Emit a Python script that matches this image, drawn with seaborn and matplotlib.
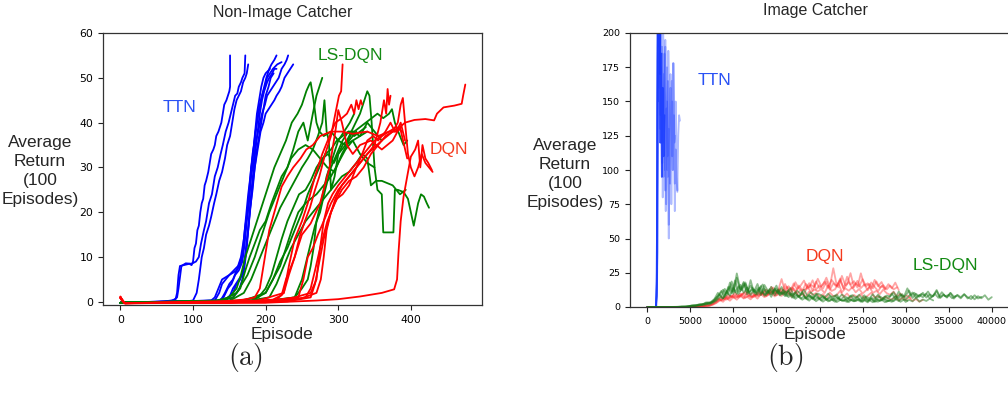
import numpy as np
import matplotlib
matplotlib.use("Agg")
import matplotlib.pyplot as plt
import seaborn as sns

# ---------------- Non-Image Catcher: one (episode, return) trace per run ----------------
ttn_a = ([0, 60, 70, 76, 78, 80, 82, 95, 98, 100, 102, 104, 106, 108, 110, 112, 114, 116, 118, 121,
          123, 125, 128, 130, 132, 135, 137, 139, 141, 143, 146, 148, 150, 151, 151],
         [-0.2, 0.1, 0.3, 0.6, 2, 6, 8, 8.5, 8.2, 9, 12, 13, 16, 17, 20, 22, 23, 26, 27, 29,
          31, 33, 34, 35, 37, 38, 39, 40, 42, 44, 45, 46, 47, 48, 55])
ttn_b = ([0, 65, 72, 78, 80, 84, 90, 98, 104, 108, 111, 115, 118, 122, 126, 130, 134, 138, 141, 145,
          149, 152, 155, 158, 161, 163, 166, 168, 171, 172],
         [-0.2, 0.1, 0.2, 1, 3, 8, 8.6, 8.5, 9, 10, 13, 16, 18, 22, 24, 28, 30, 33, 35, 38,
          40, 42, 44, 46, 46.5, 48, 49, 50, 51, 55])
ttn_c = ([0, 90, 100, 105, 108, 112, 115, 118, 122, 125, 129, 132, 136, 140, 144, 147, 151, 154, 157,
          160, 163, 166, 169, 172, 174, 176],
         [-0.2, 0.1, 0.3, 2, 5, 10, 12, 15, 17, 19, 22, 24, 27, 29, 32, 35, 37, 40, 43,
          45, 46, 47, 49, 50, 51, 53])
ttn_d = ([0, 125, 130, 135, 140, 145, 150, 155, 160, 164, 168, 170, 172, 175, 177, 180, 182, 184, 186,
          188, 190, 192, 195, 198, 201, 205, 208, 212, 215],
         [-0.2, 0.3, 1, 3, 5, 5.5, 6, 6.5, 7, 8, 10, 14, 17, 20, 24, 30, 32, 35, 38,
          40, 42, 44, 46, 48, 50, 52, 53, 54, 55])
ttn_e = ([0, 130, 136, 140, 145, 150, 156, 162, 166, 170, 173, 176, 179, 182, 185, 188, 191, 195, 199,
          202, 206, 210, 216, 222],
         [-0.2, 0.3, 2, 4, 5, 6, 7, 8, 10, 14, 19, 24, 28, 33, 36, 40, 43, 46, 48,
          50, 51, 52, 53, 53.5])
ttn_f = ([0, 135, 142, 148, 153, 158, 163, 168, 171, 174, 177, 180, 184, 187, 191, 195, 199, 202, 206,
          210, 214, 218, 222, 226, 229, 231],
         [-0.2, 0.2, 1, 3, 4, 6, 7, 9, 13, 18, 22, 28, 32, 36, 39, 42, 44, 46, 47,
          48, 49, 50, 52, 53, 54, 55])
ttn_g = ([0, 140, 148, 155, 160, 165, 169, 172, 175, 178, 182, 185, 189, 193, 197, 200, 204, 208, 212,
          215, 219, 222, 226, 230, 234, 238],
         [-0.2, 0.2, 1, 2, 4, 5, 7, 10, 15, 20, 25, 30, 34, 38, 40, 42, 43, 44, 45,
          46, 47, 48, 50, 51, 52, 53])
ttn_h = ([0, 138, 144, 150, 155, 160, 165, 170, 173, 176, 179, 182, 185, 188, 191, 194, 197, 200, 203,
          206],
         [-0.2, 0.3, 2, 4, 5, 7, 9, 12, 17, 22, 27, 32, 37, 42, 45, 48, 50, 51, 51.5, 52])
ttn_i = ([0, 145, 150, 155, 159, 163, 167, 170, 173, 176, 179, 182, 185, 188, 191, 194, 197, 200, 204,
          207, 211],
         [-0.2, 0.3, 1, 3, 4, 5, 6, 8, 12, 16, 21, 26, 30, 34, 37, 40, 43, 46, 48, 50, 51])
ttn_j = ([0, 150, 155, 160, 164, 168, 171, 174, 177, 180, 183, 186, 189, 192, 195, 198, 202, 205, 209,
          212, 215],
         [-0.2, 0.2, 1, 2, 3, 5, 8, 12, 18, 24, 29, 34, 38, 42, 45, 47, 49, 50, 51, 52, 52])

ls_a = ([0, 130, 150, 160, 166, 172, 180, 188, 196, 204, 212, 220, 228, 236, 244, 250, 256, 260, 262,
         266, 270, 274, 280, 290, 300, 310, 320, 330, 340, 350],
        [-0.2, 0.2, 1, 3, 6, 10, 14, 18, 22, 26, 30, 33, 36, 40, 42, 44, 47, 48.5, 49,
         45, 40, 38, 37, 38, 36, 35, 36, 33, 31, 30])
ls_b = ([0, 140, 155, 165, 172, 178, 185, 192, 200, 208, 215, 222, 230, 238, 245, 252, 258, 265, 270, 274, 278],
        [-0.2, 0.3, 1, 3, 7, 10, 13, 16, 18, 22, 25, 28, 30, 34, 38, 40, 36, 42, 46, 48, 50])
ls_c = ([0, 150, 170, 180, 190, 200, 210, 220, 230, 240, 250, 258, 265, 272, 278, 281, 284, 287, 290,
         295, 300, 310, 320, 330, 340, 350, 360],
        [-0.2, 0.2, 2, 5, 9, 13, 17, 21, 24, 27, 30, 32, 34, 37, 40, 45, 38, 36, 25,
         28, 33, 35, 38, 37, 40, 38, 36])
ls_d = ([0, 160, 190, 200, 208, 215, 222, 230, 238, 246, 255, 262, 270, 278, 286, 294, 300, 306, 312, 318,
         324, 330, 336, 340, 343, 346, 350, 354, 360, 362, 370, 376, 378, 382, 390, 396, 400, 404, 410,
         414, 418, 422, 425],
        [-0.2, 0.2, 1, 3, 6, 10, 14, 18, 21, 24, 25, 27, 30, 32, 33, 31, 33, 35, 36, 38,
         40, 42, 45, 47, 46, 40, 30, 25, 24, 15.5, 15.5, 15.5, 25, 25, 24.5, 23, 20, 17, 22,
         24, 23.5, 22, 21])
ls_e = ([0, 170, 200, 210, 220, 230, 240, 250, 258, 266, 274, 282, 290, 298, 306, 314, 322, 330, 338,
         346, 354, 362, 370, 374, 378, 385, 390, 395],
        [-0.2, 0.3, 2, 5, 9, 12, 16, 20, 24, 27, 30, 33, 34, 36, 37, 38, 38, 39, 40,
         41, 42, 41, 42, 43, 40, 37, 35, 36])
ls_f = ([0, 175, 205, 215, 225, 235, 245, 255, 265, 275, 285, 295, 305, 315, 325, 333, 340, 345, 352,
         360, 375, 385, 393],
        [-0.2, 0.2, 1, 4, 8, 12, 15, 18, 20, 22, 24, 26, 28, 29, 31, 33, 32, 26, 27,
         27, 26, 24, 25])
ls_g = ([0, 200, 240, 250, 256, 262, 268, 275, 282, 290, 298, 306, 314, 322, 330, 338],
        [-0.2, 0.2, 1, 5, 9, 13, 17, 20, 25, 30, 33, 36, 38, 37, 38, 39])
ls_h = ([0, 210, 240, 250, 258, 262, 266, 270, 276, 284, 292, 300, 308, 316, 322],
        [-0.2, 0.2, 1, 3, 5, 8, 12, 18, 22, 28, 32, 36, 38, 40, 42])
ls_i = ([0, 140, 160, 175, 185, 195, 205, 215, 225, 235, 245, 255, 265, 275, 285, 295, 305, 315, 325],
        [-0.2, 0.3, 2, 6, 10, 15, 20, 24, 28, 32, 34, 35, 34, 32, 30, 29, 33, 36, 38])
ls_j = ([0, 180, 200, 210, 220, 228, 236, 245, 255, 262, 270, 280, 290, 300, 310, 320, 330, 340],
        [-0.2, 0.2, 2, 5, 8, 12, 16, 20, 22, 23, 24, 26, 28, 31, 34, 36, 37, 38])

dqn_a = ([0, 2, 6, 120, 170, 185, 192, 197, 205, 212, 222, 230, 238, 248, 256, 265, 275, 290, 305, 320,
          340, 355, 370, 380, 388],
         [1.2, 0.6, -0.3, -0.2, 0.5, 1, 3, 8, 16, 20, 25.7, 28, 30, 32, 34, 35, 37, 38, 38, 37.5,
          38, 37, 38, 39, 38])
dqn_b = ([0, 2, 6, 150, 210, 222, 228, 233, 240, 247, 254, 261, 268, 274, 282, 290, 296, 301, 304, 306],
         [1.0, 0.5, -0.3, -0.2, 0.5, 1.5, 5, 7, 10, 14.6, 18, 21, 25, 28, 33, 37, 42, 46, 47, 53])
dqn_c = ([0, 2, 6, 150, 215, 225, 232, 240, 250, 258, 268, 278, 288, 296, 305, 312, 318, 322, 325, 328,
          331, 333],
         [0.9, 0.4, -0.3, -0.2, 0.5, 2, 8, 14, 18, 22, 28, 33, 37, 40, 41, 42, 44, 42, 45, 43,
          45, 44])
dqn_d = ([0, 2, 6, 200, 245, 252, 258, 265, 272, 280, 290, 300, 310, 320, 330, 340, 350, 358, 363, 366,
          368, 370, 372],
         [1.1, 0.5, -0.3, -0.1, 1, 5, 10, 12, 15, 18, 22, 25, 27, 29, 31, 33, 35, 40, 45, 42,
          47.5, 44, 46])
dqn_e = ([0, 2, 6, 220, 255, 262, 268, 275, 285, 295, 305, 315, 325, 335, 345, 355, 365, 375, 382, 386,
          389, 392, 396, 400, 405, 410, 415, 420, 425, 430],
         [0.8, 0.4, -0.3, 0.1, 1, 3, 7, 12, 18, 22, 25, 27, 28, 30, 33, 35, 37, 38, 40, 44,
          45.5, 40, 33, 30, 28, 30, 33, 31, 30, 29])
dqn_f = ([0, 2, 6, 230, 262, 268, 274, 280, 288, 296, 305, 315, 325, 340, 360, 375, 385, 392, 405, 420,
          432, 436, 445, 460, 470, 472, 475],
         [1.0, 0.5, -0.3, 0.1, 1, 4, 9, 14, 19, 23, 26, 28, 30, 33, 36, 38, 39, 40, 40.6, 40.8,
          40.5, 42, 43.4, 43.8, 44.2, 46, 48.5])
dqn_g = ([0, 2, 6, 200, 270, 300, 330, 360, 377, 381, 383, 386, 390, 395, 400, 406, 410, 413, 416, 420,
          424, 429],
         [0.9, 0.4, -0.3, -0.2, 0.3, 0.6, 1.2, 2.0, 2.8, 5, 11, 18, 23.5, 28, 32.4, 34, 36, 30, 35, 32,
          31, 29.4])
dqn_h = ([0, 2, 6, 200, 240, 262, 270, 275, 280, 286, 292, 300, 310, 320, 330, 340, 350, 360, 370, 380,
          386, 392],
         [1.0, 0.5, -0.3, 0.1, 1, 2, 5, 12, 18, 22, 24, 26, 28, 30, 32, 34, 36, 37, 38, 38,
          40, 36])
dqn_i = ([0, 2, 6, 210, 250, 270, 276, 280, 284, 290, 298, 306, 315, 325, 333, 340, 348, 355, 365, 372,
          378],
         [0.8, 0.4, -0.3, 0.2, 0.8, 2, 5, 10, 16, 20, 23, 24, 26, 30, 33, 36, 37, 36, 38, 40,
          38])
dqn_j = ([0, 2, 6, 190, 225, 232, 240, 250, 262, 275, 288, 296, 300, 305, 312, 320, 330, 345, 360, 375,
          385, 395],
         [1.0, 0.5, -0.3, 0.3, 2, 6, 10, 15, 17.5, 22, 30, 38, 42.8, 40, 35, 33, 35, 36, 34, 36,
          39, 32])

ttn_runs = [ttn_a, ttn_b, ttn_c, ttn_d, ttn_e, ttn_f, ttn_g, ttn_h, ttn_i, ttn_j]
ls_runs = [ls_a, ls_b, ls_c, ls_d, ls_e, ls_f, ls_g, ls_h, ls_i, ls_j]
dqn_runs = [dqn_a, dqn_b, dqn_c, dqn_d, dqn_e, dqn_f, dqn_g, dqn_h, dqn_i, dqn_j]

# ---------------- Image Catcher ----------------
# TTN runs: (episodes, returns); few episodes because each episode lasts long
img_ttn_1 = ([0, 400, 800, 1000, 1100, 1150, 1200, 1250, 1300, 1350, 1400, 1450, 1500, 1550, 1600],
             [0, 0, 0, 0, 8, 90, 210, 260, 230, 250, 190, 240, 170, 225, 200])
img_ttn_2 = ([0, 400, 800, 1050, 1150, 1200, 1250, 1300, 1350, 1400, 1450, 1500, 1600, 1700, 1800, 1900, 2000],
             [0, 0, 0, 0, 25, 140, 230, 210, 245, 150, 220, 120, 185, 95, 160, 110, 140])
img_ttn_3 = ([0, 500, 1000] + list(range(1100, 2501, 100)),
             [0, 0, 0, 10, 180, 215, 160, 205, 120, 190, 80, 170, 100, 195, 75, 150, 95, 130])
img_ttn_4 = ([0, 500, 1000] + list(range(1150, 3251, 100)),
             [0, 0, 0, 20, 200, 170, 220, 140, 175, 105, 205, 160, 130, 70, 145, 110, 187, 155, 90,
              125, 165, 100, 178, 120, 125])
img_ttn_5 = ([0, 500, 1000] + list(range(1200, 3501, 100)),
             [0, 0, 0, 40, 210, 180, 130, 200, 95, 160, 120, 185, 85, 140, 175, 110, 50, 120, 160,
              75, 150, 100, 140, 70, 115, 95, 84])
img_ttn_6 = ([0, 500, 1000] + list(range(1100, 3801, 100)),
             [0, 0, 0, 15, 150, 200, 235, 170, 120, 185, 140, 95, 160, 190, 130, 100, 165, 60, 120,
              170, 150, 110, 178, 140, 90, 150, 115, 85, 125, 140, 136])
img_ttn_runs = [img_ttn_1, img_ttn_2, img_ttn_3, img_ttn_4, img_ttn_5, img_ttn_6]
img_ttn_alpha = [0.9, 0.8, 0.35, 0.35, 0.35, 0.35]

# DQN and LS-DQN returns, logged every 400 episodes (first log at the given offset)
LOG_EVERY = 400
img_dqn_1 = [0, 0, 0, 0, 0, 0, 0, 0, 0, 0, 0, 0, 0, 0, 0.1, 0.2,
             0.3, 0.5, 0.9, 1.6, 2.8,
             4.6, 6.2, 5.4, 8.1, 6.9, 9.3, 7.6, 10.2, 8.4, 7.2,
             9.1, 7.8, 10.6, 8.3, 9.7, 11.4, 8.6, 12.9, 10.1, 16.8,
             11.6, 14.2, 10.8, 15.7, 12.3, 13.1, 17.4, 11.9, 18.6, 13.7,
             16.2, 21.4, 14.8, 28.3, 15.9, 19.7, 13.6, 22.1, 16.4, 18.9,
             14.2, 24.6, 15.8, 17.3, 13.4, 19.8, 15.1, 18.2, 12.9, 16.7,
             13.6, 17.8, 12.4]
img_dqn_2 = [0, 0, 0, 0, 0, 0, 0, 0, 0, 0, 0, 0, 0, 0, 0.1, 0.1,
             0.4, 0.8, 1.3, 2.2, 3.9,
             5.7, 4.9, 7.8, 6.3, 8.9, 7.1, 9.8, 6.6, 10.7, 8.2,
             7.4, 10.3, 8.8, 11.7, 9.2, 14.6, 10.5, 12.1, 20.4, 11.3,
             15.2, 12.4, 18.1, 13.6, 11.8, 16.9, 14.3, 19.5, 12.7, 15.8,
             13.4, 18.7, 12.6, 17.2, 14.9, 20.8, 13.1, 16.6, 24.7, 14.5,
             19.1, 13.8, 16.4, 12.2, 17.9, 14.7, 11.6, 15.3, 13.2]
img_dqn_3 = [0, 0, 0, 0, 0, 0, 0, 0, 0, 0, 0, 0, 0, 0, 0.2, 0.3,
             0.6, 1.1, 0.8, 1.9, 3.2,
             5.1, 3.8, 6.4, 4.6, 7.2, 5.3, 8.1, 6.2, 7.4, 5.6,
             8.3, 6.1, 9.4, 7.2, 8.6, 10.1, 7.7, 9.3, 8.1, 11.2,
             9.6, 7.4, 10.8, 8.2, 9.1, 7.8, 11.3, 8.9, 10.2, 7.6,
             9.4, 6.8, 10.6, 7.9, 8.7, 11.8, 7.3, 9.9, 6.6, 8.8,
             7.1, 9.6, 6.4, 8.3, 10.4, 6.9, 8.1, 5.8, 7.6, 6.2,
             5.4, 7.3, 4.8, 6.6, 5.1, 6.9, 4.4, 5.8, 3.9, 5.2]
img_dqn_4 = [0, 0, 0, 0, 0, 0, 0, 0, 0, 0, 0, 0,
             0, 0.1, 0.2, 0.4, 0.7, 1.2, 2.0, 3.4,
             5.2, 7.4, 6.1, 8.8, 7.2, 10.4, 6.8, 9.1, 11.3, 8.5,
             10.2, 8.1, 11.6, 9.3, 12.8, 10.1, 14.2, 9.8, 13.5, 11.7,
             14.9, 11.3, 17.2, 12.8, 15.6, 19.3, 13.4, 16.1, 14.7, 20.6,
             15.3, 18.4, 13.9, 19.8, 16.6, 14.4, 22.7, 15.8, 18.1, 13.7,
             17.4, 14.9, 20.3, 15.2, 16.8, 13.6, 18.7, 14.1, 15.9, 12.8,
             15.6, 12.9, 14.3]
img_dqn_5 = [0, 0, 0, 0, 0, 0, 0, 0, 0, 0, 0, 0.1,
             0.2, 0.3, 0.5, 0.8, 1.4, 2.3, 3.1, 4.4,
             6.3, 4.9, 7.6, 5.8, 8.4, 6.6, 7.9, 9.7, 6.9, 8.2,
             7.1, 9.4, 8.2, 10.6, 7.8, 9.9, 11.5, 8.6, 12.3, 9.1,
             11.8, 9.3, 13.4, 10.1, 12.2, 9.6, 14.8, 10.9, 12.6, 11.4,
             13.1, 10.2, 15.6, 11.7, 12.9, 17.3, 10.8, 13.6, 11.9, 14.4,
             10.7, 13.2, 9.8, 12.1, 14.6, 10.3, 11.8, 9.4, 12.7, 10.1,
             8.9, 11.2, 7.6, 9.8, 7.1, 8.4, 6.6]
img_ls_1 = [0, 0, 0, 0, 0, 0, 0, 0, 0, 0.1, 0.2, 0.2, 0.3,
            0.6, 1.2, 0.9, 1.8, 2.4, 1.9, 3.1, 4.5,
            7.2, 6.1, 11.4, 8.3, 13.9, 9.6, 16.2, 10.4, 14.1, 8.8,
            12.7, 9.1, 15.3, 8.2, 11.8, 7.4, 13.5, 9.7, 10.6, 7.9,
            11.2, 6.8, 9.4, 7.3, 10.9, 6.1, 8.8, 5.7, 9.6, 6.4,
            8.1, 5.2, 7.9, 6.3, 9.2, 5.4, 7.1, 4.9, 8.3, 5.8,
            7.4, 5.1, 8.6, 4.7, 6.9, 5.6, 9.1, 5.3, 7.7, 6.2,
            9.8, 6.1, 11.3, 7.2, 8.4, 12.1, 6.6, 9.7, 7.5, 10.4,
            6.9, 9.2, 7.8, 11.6, 6.5, 8.7, 7.3, 10.2, 6.1, 8.9,
            7.1, 9.4, 6.2, 8.1, 5.6, 7.9, 6.4, 8.6, 5.3, 7.2]
img_ls_2 = [0, 0, 0, 0, 0, 0, 0, 0, 0, 0, 0.1, 0.2, 0.4,
            0.8, 0.6, 1.5, 2.2, 1.7, 2.8, 3.6, 5.3,
            9.1, 12.6, 8.4, 17.8, 11.2, 24.5, 12.9, 18.3, 10.7, 15.6,
            11.4, 16.8, 9.8, 13.2, 10.1, 14.7, 8.6, 12.3, 9.4, 11.1,
            7.2, 9.8, 5.9, 8.1, 5.3, 6.9, 4.6, 7.4, 4.2, 6.1,
            3.9, 5.8, 4.4, 6.2, 3.6, 5.1, 4.8, 3.7, 5.6, 4.1,
            5.3, 3.8, 4.9, 3.4, 6.1, 4.2, 3.9, 5.4, 3.5, 4.7,
            3.8, 5.9, 4.3, 6.6, 3.7, 5.2, 4.1, 6.8, 3.9, 5.5,
            4.4, 6.1, 4.8]
img_ls_3 = [0, 0, 0, 0, 0, 0, 0, 0, 0.1, 0.1, 0.3, 0.2, 0.5,
            1.1, 0.7, 2.0, 1.4, 3.3, 2.6, 4.2, 6.8,
            8.9, 6.4, 10.8, 14.9, 9.7, 21.3, 11.6, 17.4, 9.2, 19.6,
            10.3, 13.8, 8.7, 16.1, 11.9, 9.3, 12.8, 10.2, 14.6, 8.9,
            12.1, 8.4, 10.7, 7.6, 9.9, 6.8, 8.2, 6.3, 7.8, 5.9,
            7.3, 5.4, 6.6, 4.8, 6.9, 5.2, 4.6, 6.4, 5.1, 4.3,
            6.2, 4.5, 5.7, 4.1, 5.9, 3.8, 5.3, 4.7, 6.1, 4.4,
            5.6, 7.9, 6.3, 9.4, 5.8, 8.1, 10.6, 6.7, 8.8, 7.1,
            9.6, 6.4, 8.3, 12.4, 7.2, 9.1, 6.8, 10.3, 7.6, 8.4,
            6.3, 9.2, 7.1, 5.8, 8.6, 6.2, 7.4]
img_ls_4 = [0, 0, 0, 0, 0, 0, 0, 0, 0.1, 0.2, 0.2, 0.4,
            0.9, 1.4, 1.1, 2.1, 1.6, 2.9, 3.7, 5.8,
            10.3, 7.6, 13.2, 9.4, 18.6, 10.8, 15.1, 12.3, 17.9, 9.9,
            14.2, 10.6, 12.9, 16.4, 9.8, 13.1, 11.2, 15.6, 9.3, 12.4,
            10.6, 13.8, 8.9, 11.9, 9.4, 12.6, 8.1, 10.7, 7.9, 9.8,
            8.6, 6.9, 9.7, 7.4, 8.3, 6.2, 9.1, 7.3, 6.5, 8.7,
            6.8, 8.9, 5.9, 7.6, 6.3, 9.3, 5.7, 7.8, 6.1, 8.4,
            7.6, 10.9, 6.8, 9.2, 7.4, 13.6, 8.1, 10.4, 7.3, 9.5,
            8.4, 11.3, 7.1, 9.6, 6.7, 10.8, 7.9, 8.8, 6.4, 7.7]
img_ls_5 = [0, 0, 0, 0, 0, 0, 0, 0, 0, 0.1, 0.3, 0.3,
            0.7, 1.0, 1.6, 1.3, 2.5, 3.4, 2.9, 4.8,
            8.1, 11.7, 7.3, 14.6, 10.2, 19.4, 9.6, 13.7, 16.9, 10.8,
            12.6, 9.2, 14.1, 10.4, 8.7, 12.2, 9.9, 13.3, 8.4, 10.9,
            7.9, 10.1, 6.6, 8.8, 6.1, 7.7, 5.4, 8.2, 5.1, 6.8,
            4.7, 6.9, 4.1, 5.6, 3.8, 6.3, 4.5, 5.2, 3.6, 5.8,
            4.3, 5.5, 3.7, 6.4, 4.9, 3.5, 5.7, 4.4, 6.2, 3.9,
            5.1, 4.2, 6.3, 3.8, 5.4, 4.6]
img_dqn_runs = [(img_dqn_1, 0), (img_dqn_2, 0), (img_dqn_3, 0), (img_dqn_4, 200), (img_dqn_5, 200)]
img_ls_runs = [(img_ls_1, 0), (img_ls_2, 0), (img_ls_3, 0), (img_ls_4, 200), (img_ls_5, 200)]

# ---------------- styling ----------------
sns.set_style("ticks")
plt.rcParams["font.family"] = ["DejaVu Sans"]
plt.rcParams["mathtext.fontset"] = "cm"
LABEL_FONT = ["Liberation Sans", "DejaVu Sans"]

BLUE, GREEN, RED = "#0000ff", "#008000", "#ff0000"

fig = plt.figure(figsize=(10.08, 3.98), dpi=100)
ax1 = fig.add_axes([103 / 1008, 1 - 305 / 398, 379 / 1008, 272 / 398])
ax2 = fig.add_axes([630 / 1008, 1 - 307 / 398, 384 / 1008, 274 / 398])

# Non-Image Catcher curves
for runs, col in [(ttn_runs, BLUE), (ls_runs, GREEN), (dqn_runs, RED)]:
    for ep, ret in runs:
        sns.lineplot(x=ep, y=ret, ax=ax1, color=col, lw=1.3, sort=False, estimator=None)

ax1.set_xlim(-24, 498)
ax1.set_ylim(-0.7, 60)
ax1.set_xticks([0, 100, 200, 300, 400])
ax1.set_yticks([0, 10, 20, 30, 40, 50, 60])
ax1.tick_params(labelsize=7.8, length=3.5, width=0.8, colors="#222222", labelcolor="black")
for s in ax1.spines.values():
    s.set_color("#333333")
    s.set_linewidth(0.9)
ax1.set_xlabel("")
ax1.set_ylabel("")

ax1.text(58, 43.3, "TTN", color="#2a52f5", fontsize=12.5, family=LABEL_FONT, va="center")
ax1.text(272, 55, "LS-DQN", color="#138a13", fontsize=12.5, family=LABEL_FONT, va="center")
ax1.text(426, 34, "DQN", color="#f53a1e", fontsize=12.5, family=LABEL_FONT, va="center")

# Image Catcher curves
for (ep, ret), a in zip(img_ttn_runs, img_ttn_alpha):
    sns.lineplot(x=ep, y=ret, ax=ax2, color="#1a3cff", alpha=a, lw=1.3, sort=False, estimator=None)
for ret, first in img_dqn_runs:
    ep = first + np.arange(len(ret)) * LOG_EVERY
    sns.lineplot(x=ep, y=ret, ax=ax2, color="#ff2020", alpha=0.4, lw=1.3, sort=False, estimator=None)
for ret, first in img_ls_runs:
    ep = first + np.arange(len(ret)) * LOG_EVERY
    sns.lineplot(x=ep, y=ret, ax=ax2, color="#1a7a1a", alpha=0.5, lw=1.3, sort=False, estimator=None)

ax2.set_xlim(-2000, 42000 + 5 / 0.008617)
ax2.set_ylim(0, 200)
ax2.set_xticks(range(0, 40001, 5000))
ax2.set_yticks(range(0, 201, 25))
ax2.tick_params(labelsize=6.8, length=3.5, width=0.8, colors="#222222", labelcolor="black")
for s in ax2.spines.values():
    s.set_color("#333333")
    s.set_linewidth(0.9)
ax2.set_xlabel("")
ax2.set_ylabel("")

ax2.text(5850, 165.5, "TTN", color="#2a52f5", fontsize=12.5, family=LABEL_FONT, va="center")
ax2.text(18400, 36.6, "DQN", color="#f53a1e", fontsize=12.5, family=LABEL_FONT, va="center")
ax2.text(30800, 30, "LS-DQN", color="#138a13", fontsize=12.5, family=LABEL_FONT, va="center")

# titles, axis labels and panel tags in figure coordinates
W, H = 1008, 398
def ftext(px, py, s, **kw):
    fig.text(px / W, 1 - py / H, s, ha="center", va="center", **kw)

ftext(283, 12, "Non-Image Catcher", fontsize=11.5, family=LABEL_FONT)
ftext(815, 11, "Image Catcher", fontsize=11.5, family=LABEL_FONT)
ylab = "Average\nReturn\n(100\nEpisodes)"
ftext(40, 171, ylab, fontsize=12.5, family=LABEL_FONT, multialignment="center", linespacing=1.32)
ftext(565, 174, ylab, fontsize=12.5, family=LABEL_FONT, multialignment="center", linespacing=1.32)
ftext(282, 335, "Episode", fontsize=12.5, family=LABEL_FONT)
ftext(815, 335, "Episode", fontsize=12.5, family=LABEL_FONT)
ftext(245, 357, r"$\mathrm{(a)}$", fontsize=20)
ftext(785, 357, r"$\mathrm{(b)}$", fontsize=20)

fig.savefig("out.png", dpi=100)
